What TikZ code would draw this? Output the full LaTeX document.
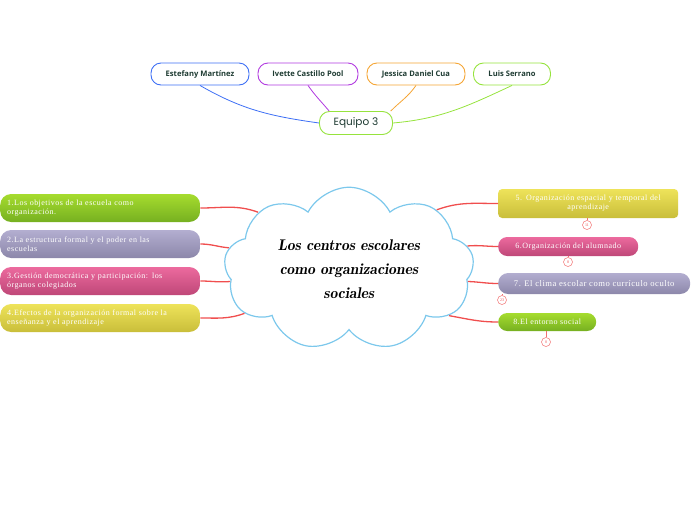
\documentclass[tikz,border=0pt]{standalone}
\usepackage{fontspec}
\setmainfont{Liberation Serif}
\newfontfamily\temafont[LetterSpace=6]{Liberation Serif}
\newfontfamily\namefont{Open Sans}
\newfontfamily\teamfont{Poppins}
\newcommand\cloudfont{\fontfamily{lmr}\fontseries{b}\fontshape{it}\selectfont}
\usetikzlibrary{shapes.symbols}
\definecolor{inkteal}{HTML}{1E3B32}
\definecolor{linkred}{HTML}{F04E4E}
\definecolor{cloudblue}{HTML}{7CC8EC}
\definecolor{bluepen}{HTML}{3D6FF5}
\definecolor{purplepen}{HTML}{B13AE0}
\definecolor{orangepen}{HTML}{F5A534}
\definecolor{limepen}{HTML}{96E33D}
\definecolor{limetop}{HTML}{A6DC2E}
\definecolor{limebot}{HTML}{76B021}
\definecolor{greytop}{HTML}{B3AED0}
\definecolor{greybot}{HTML}{8C87AA}
\definecolor{pinktop}{HTML}{EC6A9E}
\definecolor{pinkbot}{HTML}{BF4778}
\definecolor{yellowtop}{HTML}{EEE35A}
\definecolor{yellowbot}{HTML}{C9BE3A}

\begin{document}
\begin{tikzpicture}[x=1pt,y=-1pt,
  person/.style={draw,line width=0.9pt,fill=white,rounded corners=10pt,minimum height=22,
    inner xsep=8pt,text=inkteal,font=\namefont\bfseries\fontsize{7.6}{8}\selectfont},
  link/.style={linkred,line width=1.3pt},
  tema/.style={text=white,inner ysep=2pt,font=\temafont\fontsize{8}{9}\selectfont},
  lefttema/.style={tema,anchor=west,rounded corners=11pt,minimum height=28,text width=186pt,
    inner xsep=7pt,align=left},
  righttema/.style={tema,anchor=west,rounded corners=9pt,align=center},
  nota/.style={circle,draw=linkred!80,line width=0.5pt,fill=white,inner sep=0pt,minimum size=9,
    text=linkred,font=\fontsize{4}{4}\selectfont}]
  \useasboundingbox (0,0) rectangle (696,520);
  % team and members
  \node[draw=limepen,line width=0.9pt,fill=white,rounded corners=10pt,minimum width=73,minimum height=23,
    text=inkteal,font=\teamfont\fontsize{10.5}{11}\selectfont] (equipo) at (356,123) {Equipo 3};
  \node[person,draw=bluepen,minimum width=98] (estefany) at (200,74) {Estefany Martínez};
  \node[person,draw=purplepen,minimum width=100] (ivette) at (308,74) {Ivette Castillo Pool};
  \node[person,draw=orangepen,minimum width=98] (jessica) at (416,74) {Jessica Daniel Cua};
  \node[person,draw=limepen,minimum width=77] (luis) at (512,74) {Luis Serrano};
  \draw[bluepen,line width=0.8pt] (estefany.south) to[out=-30,in=172] (equipo.west);
  \draw[purplepen,line width=0.8pt] (ivette.south) to[out=-55,in=130] (equipo.156);
  \draw[orangepen,line width=0.8pt] (jessica.south) to[out=-125,in=45] (equipo.19);
  \draw[limepen,line width=0.8pt] (luis.south) to[out=205,in=5] (equipo.east);
  % central idea
  \node[cloud,cloud puffs=9,cloud puff arc=125,aspect=1.65,draw=cloudblue,line width=1.2pt,fill=white,
    minimum width=250,minimum height=152,align=center,font=\cloudfont\fontsize{15.5}{24}\selectfont] (central) at (349,269)
    {Los centros escolares\\como organizaciones\\sociales};
  % left topics
  \node[lefttema,top color=limetop,bottom color=limebot] (tema1) at (0,208) {1.Los objetivos de la escuela como\\organización.};
  \node[lefttema,top color=greytop,bottom color=greybot] (tema2) at (0,244) {2.La estructura formal y el poder en las\\escuelas};
  \node[lefttema,top color=pinktop,bottom color=pinkbot] (tema3) at (0,281) {3.Gestión democrática y participación: los\\órganos colegiados};
  \node[lefttema,top color=yellowtop,bottom color=yellowbot] (tema4) at (0,318) {4.Efectos de la organización formal sobre la\\enseñanza y el aprendizaje};
  \draw[link] (tema1.east) to[out=0,in=160] (central.148);
  \draw[link] (tema2.east) to[out=0,in=175] (central.170);
  \draw[link] (tema3.east) to[out=0,in=185] (central.186);
  \draw[link] (tema4.east) to[out=0,in=200] (central.203);
  % right topics
  \node[righttema,rounded corners=4pt,minimum width=180,minimum height=29,text width=168pt,inner xsep=6pt,
    top color=yellowtop,bottom color=yellowbot] (tema5) at (498,203.5) {5. Organización espacial y temporal del\\aprendizaje};
  \node[righttema,minimum width=140,minimum height=19,top color=pinktop,bottom color=pinkbot] (tema6) at (498,246.5) {6.Organización del alumnado};
  \node[righttema,rounded corners=10pt,minimum width=192,minimum height=21,top color=greytop,bottom color=greybot,
    font=\temafont\fontsize{8.6}{9}\selectfont] (tema7) at (498,283.5) {7. El clima escolar como currículo oculto};
  \node[righttema,minimum width=98,minimum height=18,top color=limetop,bottom color=limebot] (tema8) at (498,322) {8.El entorno social};
  \draw[link] (central.34) to[out=20,in=180] (tema5.west);
  \draw[link] (central.11) to[out=5,in=180] (tema6.west);
  \draw[link] (central.-6) to[out=-2,in=180] (tema7.west);
  \draw[link] (central.-25) to[out=-10,in=180] (tema8.west);
  % small counters
  \node[nota] (nota5) at (587,225) {11};
  \node[nota] (nota6) at (568,262) {8};
  \node[nota] (nota7) at (502,300) {23};
  \node[nota] (nota8) at (546,342) {0};
  \draw[linkred!80,line width=0.5pt] (nota5.north) -- (nota5.north |- tema5.south);
  \draw[linkred!80,line width=0.5pt] (nota6.north) -- (nota6.north |- tema6.south);
  \draw[linkred!80,line width=0.5pt] (nota7.north) -- (nota7.north |- tema7.south);
  \draw[linkred!80,line width=0.5pt] (nota8.north) -- (nota8.north |- tema8.south);
\end{tikzpicture}
\end{document}
